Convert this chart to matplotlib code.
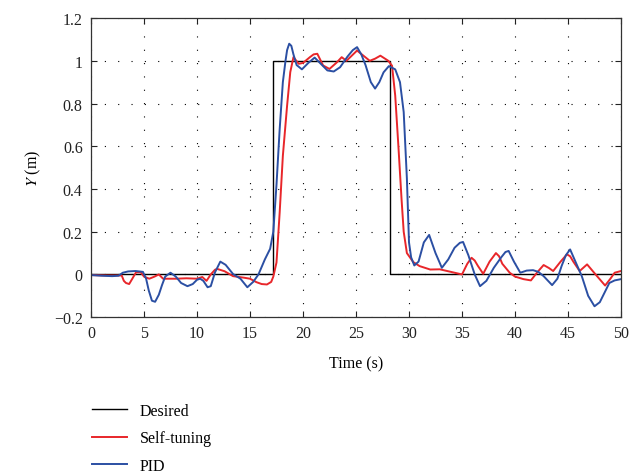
# import needed libraries
import matplotlib
matplotlib.use("Agg")
import matplotlib.pyplot as plt

# desired trajectory (step up at 17.2 s, back down at 28.2 s)
desired_t = [0, 17.2, 17.2, 28.2, 28.2, 50]
desired_y = [0, 0, 1, 1, 0, 0]

# self-tuning controller response
self_t = [0, 1.5, 2.9, 3.1, 3.3, 3.6, 3.9, 4.25, 4.7, 5.0, 5.5, 6.0, 6.4, 6.8,
          8.0, 9.0, 10.0, 10.5, 10.9, 11.3, 11.7, 11.9, 12.6, 13.4, 14.4, 15.0,
          15.6, 16.1, 16.6, 17.0, 17.2, 17.5, 17.8, 18.1, 18.5, 18.8, 19.1, 19.6,
          20.0, 20.65, 21.0, 21.35, 21.9, 22.5, 23.2, 23.65, 24.1, 24.6, 25.1,
          25.7, 26.3, 26.8, 27.3, 28.05, 28.4, 28.7, 29.0, 29.3, 29.5, 29.8,
          30.4, 31.0, 32.0, 32.9, 33.6, 34.3, 35.0, 35.5, 35.9, 36.2, 36.5,
          37.0, 37.6, 38.2, 38.5, 38.8, 39.5, 40.0, 40.8, 41.5, 42.1, 42.7,
          43.2, 43.6, 44.3, 44.9, 45.2, 45.5, 46.1, 46.8, 47.6, 48.5, 49.0,
          49.4, 50.0]
self_y = [-0.003, -0.005, -0.005, -0.03, -0.04, -0.045, -0.02, 0.01, 0.01, -0.01,
          -0.02, -0.01, 0.0, -0.02, -0.02, -0.018, -0.02, -0.012, -0.03, 0.0,
          0.022, 0.026, 0.015, -0.008, -0.015, -0.02, -0.036, -0.045, -0.047,
          -0.035, -0.01, 0.056, 0.29, 0.555, 0.79, 0.947, 1.017, 0.986, 0.99,
          1.017, 1.03, 1.033, 0.978, 0.962, 0.993, 1.017, 1.0, 1.024, 1.048,
          1.024, 1.0, 1.01, 1.024, 1.0, 0.977, 0.837, 0.60, 0.35, 0.2, 0.10,
          0.058, 0.039, 0.023, 0.024, 0.016, 0.008, 0.0, 0.05, 0.078, 0.065,
          0.04, 0.003, 0.06, 0.1, 0.085, 0.05, 0.008, -0.01, -0.022, -0.028,
          0.01, 0.044, 0.03, 0.016, 0.06, 0.094, 0.085, 0.06, 0.016, 0.047,
          0.0, -0.052, -0.02, 0.008, 0.016]

# PID controller response
pid_t = [0, 1.0, 2.0, 2.6, 3.0, 3.5, 4.2, 4.9, 5.2, 5.45, 5.75, 6.05, 6.4,
         6.7, 7.0, 7.5, 8.0, 8.5, 9.1, 9.6, 10.0, 10.3, 10.6, 11.0, 11.3,
         11.7, 12.2, 12.7, 13.4, 14.1, 14.75, 15.3, 15.8, 16.4, 16.9, 17.2,
         17.5, 17.8, 18.1, 18.35, 18.5, 18.7, 18.9, 19.1, 19.4, 19.9, 20.5,
         21.1, 21.7, 22.3, 22.9, 23.5, 24.2, 24.7, 25.1, 25.5, 25.9, 26.4,
         26.8, 27.2, 27.6, 28.1, 28.7, 29.15, 29.5, 29.8, 30.0, 30.2, 30.5,
         30.9, 31.4, 31.9, 32.5, 33.1, 33.7, 34.3, 34.8, 35.1, 35.6, 36.2,
         36.7, 37.3, 38.0, 38.7, 39.1, 39.4, 39.9, 40.5, 41.1, 41.7, 42.2,
         42.7, 43.5, 44.0, 44.4, 44.8, 45.2, 45.7, 46.3, 46.9, 47.5, 48.0,
         48.3, 48.9, 49.4, 50.0]
pid_y = [-0.003, -0.006, -0.008, -0.006, 0.008, 0.014, 0.016, 0.012, -0.02,
         -0.075, -0.123, -0.128, -0.095, -0.05, -0.01, 0.008, -0.01, -0.04,
         -0.055, -0.045, -0.025, -0.02, -0.03, -0.06, -0.055, 0.01, 0.06,
         0.045, 0.002, -0.02, -0.06, -0.035, 0.0, 0.07, 0.12, 0.2, 0.42, 0.68,
         0.9, 1.0, 1.05, 1.08, 1.07, 1.03, 0.98, 0.96, 0.99, 1.015, 0.985,
         0.955, 0.95, 0.97, 1.02, 1.05, 1.064, 1.03, 0.98, 0.9, 0.87, 0.9,
         0.946, 0.975, 0.96, 0.90, 0.76, 0.45, 0.15, 0.08, 0.042, 0.06, 0.15,
         0.185, 0.1, 0.031, 0.07, 0.125, 0.148, 0.152, 0.09, 0.0, -0.055,
         -0.03, 0.031, 0.08, 0.105, 0.11, 0.06, 0.008, 0.018, 0.02, 0.012,
         -0.008, -0.05, -0.02, 0.04, 0.09, 0.117, 0.06, -0.008, -0.1, -0.149,
         -0.13, -0.1, -0.04, -0.028, -0.022]

# serif fonts to match the journal style
plt.rcParams['font.family'] = 'Liberation Serif'
plt.rcParams['mathtext.fontset'] = 'stix'
plt.rcParams['font.size'] = 11.5

fig = plt.figure(figsize=(6.43, 4.77), dpi=100)
ax = fig.add_axes([0.1415, 0.333, 0.8243, 0.627])

line_d, = ax.plot(desired_t, desired_y, color='black', lw=1.0)
line_s, = ax.plot(self_t, self_y, color='#e8262a', lw=1.4)
line_p, = ax.plot(pid_t, pid_y, color='#2b4fa3', lw=1.4)

ax.set_xlim(0, 50)
ax.set_ylim(-0.2, 1.2)
ax.set_xticks(range(0, 51, 5))
ax.set_yticks([-0.2, 0, 0.2, 0.4, 0.6, 0.8, 1.0, 1.2])
ax.set_yticklabels(['\u22120.2', '0', '0.2', '0.4', '0.6', '0.8', '1', '1.2'])
ax.tick_params(direction='in', top=True, right=True, length=4, pad=6,
               colors='#222222')
for s in ax.spines.values():
    s.set_color('#333333')
    s.set_linewidth(0.9)

# sparse dotted grid
ax.grid(True, color='black', linestyle=(0, (1, 11)), linewidth=0.8)

ax.set_xlabel("Time (s)", labelpad=10)
ax.set_ylabel("$Y$ (m)", labelpad=8)

# legend below the plot, no frame
fig.legend([line_d, line_s, line_p], ["Desired", "Self-tuning", "PID"],
           loc='upper left', bbox_to_anchor=(92 / 643, 1 - 404 / 477),
           frameon=False, borderpad=0, borderaxespad=0, handlelength=2.2,
           handletextpad=0.8, labelspacing=0.72, fontsize=11.5)

plt.savefig("out.png", dpi=100)
